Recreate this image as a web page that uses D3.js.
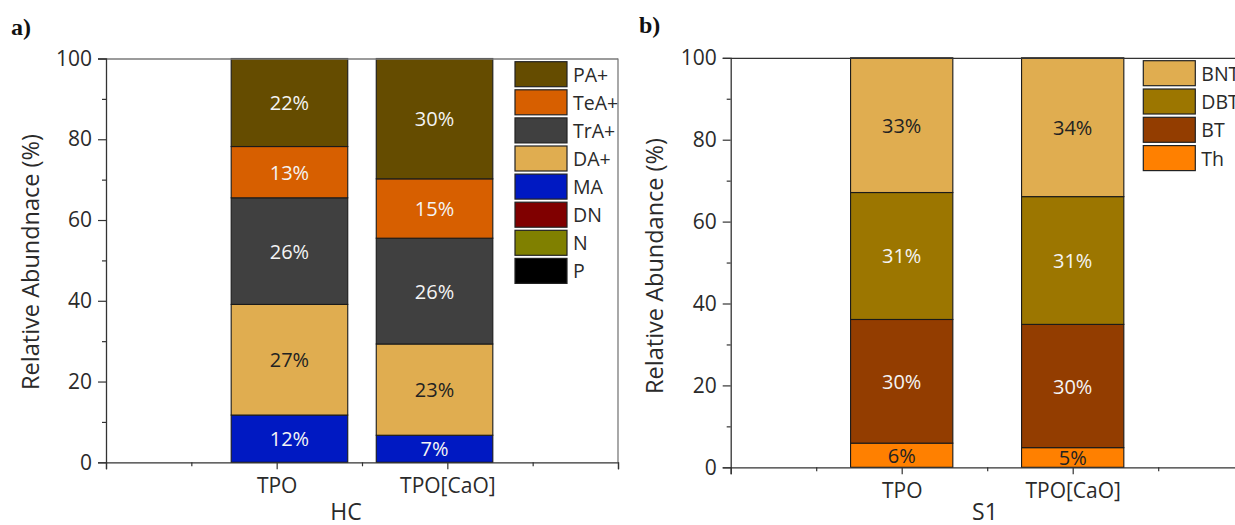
<!DOCTYPE html>
<html>
<head>
<meta charset="utf-8">
<script src="https://cdn.jsdelivr.net/npm/d3@7"></script>
<style>
  html, body { margin: 0; padding: 0; background: #fff; }
  svg { display: block; }
</style>
</head>
<body>
<svg id="chart" width="1235" height="525"></svg>
<script>
// ---- data ----
const categories = ["TPO", "TPO[CaO]"];
const yTicks = [0, 20, 40, 60, 80, 100];
const yMinorTicks = [10, 30, 50, 70, 90];

// HC groups, relative abundance (%), stacked bottom to top
const hcNames = ["P", "N", "DN", "MA", "DA+", "TrA+", "TeA+", "PA+"];
const hcP   = [0, 0];
const hcN   = [0, 0];
const hcDN  = [0, 0];
const hcMA  = [11.7, 6.7];
const hcDA  = [27.4, 22.6];
const hcTrA = [26.4, 26.2];
const hcTeA = [12.7, 14.7];
const hcPA  = [21.8, 29.8];
const hcColors = ["#000000", "#808000", "#800000", "#0019c2", "#e0ad50", "#404040", "#d75f00", "#654c00"];

// S1 groups, relative abundance (%), stacked bottom to top
const s1Names = ["Th", "BT", "DBT", "BNT"];
const s1Th  = [5.9, 4.8];
const s1BT  = [30.2, 30.1];
const s1DBT = [31.0, 31.2];
const s1BNT = [32.9, 33.9];
const s1Colors = ["#ff8000", "#933d00", "#9c7600", "#e0ad50"];

const lightFills = new Set(["#e0ad50", "#ff8000"]);
const SANS = "'Open Sans', 'Noto Sans', sans-serif";
const SERIF = "'Liberation Serif', 'DejaVu Serif', serif";

const svg = d3.select("#chart");
svg.append("rect").attr("width", 1235).attr("height", 525).attr("fill", "#fff");

function label(sel, size, color) {
  return sel.style("font-family", SANS).style("font-size", size + "px")
    .style("font-weight", 400).attr("fill", color);
}

function drawPanel(o) {
  const g = svg.append("g");
  const x = d3.scaleLinear().domain([0, 3]).range([o.left, o.right]);
  const y = d3.scaleLinear().domain([0, 100]).range([o.bottom, o.top]);

  // stacked bars
  const rows = categories.map((c, i) => {
    const r = { cat: c, idx: i };
    o.names.forEach((n, k) => r[n] = o.values[k][i]);
    return r;
  });
  const stacked = d3.stack().keys(o.names)(rows);
  stacked.forEach((layer, k) => {
    const color = o.colors[k];
    const lg = g.append("g");
    layer.forEach((d, i) => {
      const cx = i + 1 + o.shift[i];
      const x0 = x(cx - o.barWidth / 2), x1 = x(cx + o.barWidth / 2);
      lg.append("rect")
        .attr("x", x0).attr("width", x1 - x0)
        .attr("y", y(d[1])).attr("height", y(d[0]) - y(d[1]))
        .attr("fill", color)
        .attr("stroke", "#1a1a1a").attr("stroke-width", 1.1);
      const v = d[1] - d[0];
      if (v > 0) {
        label(lg.append("text"), 20, lightFills.has(color) ? "#222" : "#f4f4f4")
          .attr("x", (x0 + x1) / 2)
          .attr("y", (y(d[0]) + y(d[1])) / 2)
          .attr("text-anchor", "middle")
          .attr("dominant-baseline", "central")
          .text(Math.round(v) + "%");
      }
    });
  });

  // frame (top and right)
  g.append("line").attr("x1", o.left).attr("x2", o.frameRight)
    .attr("y1", o.top + 0.5).attr("y2", o.top + 0.5)
    .attr("stroke", o.frameColor).attr("stroke-width", 1.3);
  if (o.frameRight <= 1235) {
    g.append("line").attr("x1", o.right).attr("x2", o.right)
      .attr("y1", o.top).attr("y2", o.bottom)
      .attr("stroke", o.frameColor).attr("stroke-width", 1.3);
  }

  // y axis
  const ya = g.append("g").attr("transform", `translate(${o.left},0)`)
    .call(d3.axisLeft(y).tickValues(yTicks).tickSize(8).tickPadding(6));
  const yb = g.append("g").attr("transform", `translate(${o.left},0)`)
    .call(d3.axisLeft(y).tickValues(yMinorTicks).tickSize(4).tickFormat(""));
  yb.select(".domain").remove();
  label(ya.selectAll("text"), 21, "#2a2a2a");

  // x axis
  const xa = g.append("g").attr("transform", `translate(0,${o.bottom})`)
    .call(d3.axisBottom(x).tickValues([1, 2]).tickSize(7)
      .tickFormat((d) => categories[d - 1]));
  g.append("g").attr("transform", `translate(0,${o.bottom})`)
    .call(d3.axisBottom(x).tickValues([0, 3]).tickSize(7).tickFormat(""))
    .select(".domain").remove();
  g.append("g").attr("transform", `translate(0,${o.bottom})`)
    .call(d3.axisBottom(x).tickValues([0.5, 1.5, 2.5]).tickSize(4).tickFormat(""))
    .select(".domain").remove();
  label(xa.selectAll("text"), 21, "#2a2a2a").attr("y", 31).attr("dy", 0);

  g.selectAll(".domain").attr("stroke", "#333").attr("stroke-width", 1.3);
  g.selectAll(".tick line").attr("stroke", "#333").attr("stroke-width", 1.2);

  // axis titles
  label(g.append("text"), 23.5, "#2a2a2a")
    .attr("transform", `translate(${o.yTitleX},${o.yTitleY}) rotate(-90)`)
    .attr("text-anchor", "middle")
    .text(o.yTitle);
  label(g.append("text"), 23, "#2a2a2a")
    .attr("x", o.xTitleX).attr("y", 520)
    .attr("text-anchor", "middle")
    .text(o.xTitle);

  // panel tag
  g.append("text")
    .attr("x", o.tagX).attr("y", o.tagY)
    .style("font-family", SERIF)
    .style("font-weight", "bold").style("font-size", "24px").attr("fill", "#111")
    .text(o.tag);

  // legend (top of stack first)
  const leg = g.append("g");
  const order = o.names.map((n, k) => k).reverse();
  order.forEach((k, j) => {
    const ty = o.legY + j * o.legPitch;
    leg.append("rect")
      .attr("x", o.legX).attr("y", ty)
      .attr("width", 52).attr("height", 25)
      .attr("fill", o.colors[k]).attr("stroke", "#222").attr("stroke-width", 1.2);
    label(leg.append("text"), 19.5, "#2a2a2a")
      .attr("x", o.legX + 58).attr("y", ty + 12.5)
      .attr("dominant-baseline", "central")
      .text(o.names[k]);
  });
}

drawPanel({
  names: hcNames,
  values: [hcP, hcN, hcDN, hcMA, hcDA, hcTrA, hcTeA, hcPA],
  colors: hcColors,
  left: 106, right: 618, top: 58.5, bottom: 462.3,
  frameRight: 618, frameColor: "#7a7a7a",
  barWidth: 0.683, shift: [0.075, -0.075],
  yTitle: "Relative Abundnace (%)", yTitleX: 39, yTitleY: 262,
  xTitle: "HC", xTitleX: 346,
  tag: "a)", tagX: 11, tagY: 35,
  legX: 515, legY: 61.7, legPitch: 28.1
});

drawPanel({
  names: s1Names,
  values: [s1Th, s1BT, s1DBT, s1BNT],
  colors: s1Colors,
  left: 730.7, right: 1243.7, top: 57.8, bottom: 467.3,
  frameRight: 1243.7, frameColor: "#333",
  barWidth: 0.598, shift: [0, 0],
  yTitle: "Relative Abundance (%)", yTitleX: 663, yTitleY: 266,
  xTitle: "S1", xTitleX: 985,
  tag: "b)", tagX: 639, tagY: 33,
  legX: 1143.3, legY: 60.7, legPitch: 28.3
});
</script>
</body>
</html>
